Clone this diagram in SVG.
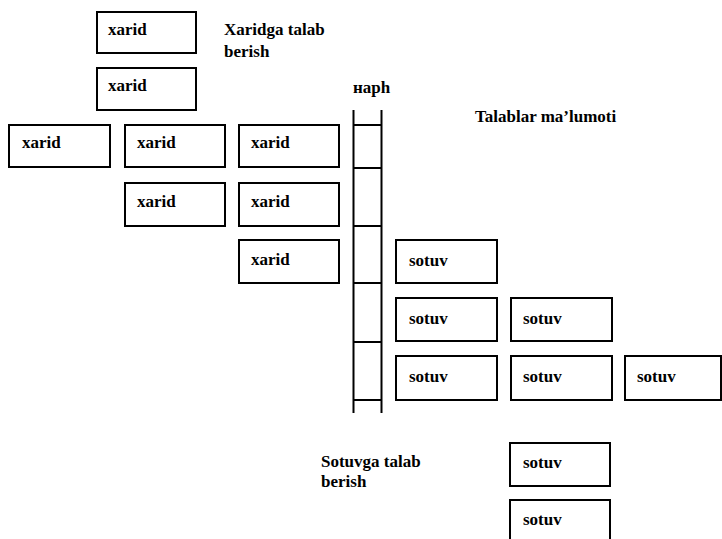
<svg xmlns="http://www.w3.org/2000/svg" width="722" height="539" viewBox="0 0 722 539">
<style>
.box{fill:#fff;stroke:#000;stroke-width:2}
.t{font-family:"Liberation Serif","Times New Roman",serif;font-weight:bold;font-size:17px;fill:#000}
.lbl{font-family:"Liberation Serif","Times New Roman",serif;font-weight:bold;font-size:17px;fill:#000}
.ln{stroke:#000;stroke-width:2;fill:none}
</style>
<rect width="722" height="539" fill="#fff"/>
<g id="labels">
<text class="lbl" x="224" y="35">Xaridga talab</text>
<text class="lbl" x="224" y="57">berish</text>
<text class="lbl" x="353" y="93">нaph</text>
<text class="lbl" x="475" y="122">Talablar ma’lumoti</text>
<text class="lbl" x="321" y="467">Sotuvga talab</text>
<text class="lbl" x="321" y="487">berish</text>
</g>
<g id="queue">
<path class="ln" d="M353.5,110 V413 M381.5,110 V413 M353.5,125 H381.5 M353.5,168 H381.5 M353.5,226 H381.5 M353.5,283 H381.5 M353.5,342 H381.5 M353.5,400 H381.5"/>
</g>
<g id="connectors"></g>
<g id="x1"><rect class="box" x="97" y="12" width="99" height="41"/><text class="t" x="108" y="35">xarid</text></g>
<g id="x2"><rect class="box" x="97" y="68" width="99" height="42"/><text class="t" x="108" y="91">xarid</text></g>
<g id="x3"><rect class="box" x="9" y="125" width="101" height="42"/><text class="t" x="22" y="148">xarid</text></g>
<g id="x4"><rect class="box" x="125" y="125" width="100" height="42"/><text class="t" x="137" y="148">xarid</text></g>
<g id="x5"><rect class="box" x="239" y="125" width="100" height="42"/><text class="t" x="251" y="148">xarid</text></g>
<g id="x6"><rect class="box" x="125" y="183" width="100" height="43"/><text class="t" x="137" y="207">xarid</text></g>
<g id="x7"><rect class="box" x="239" y="183" width="100" height="43"/><text class="t" x="251" y="207">xarid</text></g>
<g id="x8"><rect class="box" x="239" y="240" width="100" height="43"/><text class="t" x="251" y="265">xarid</text></g>
<g id="s1"><rect class="box" x="396" y="240" width="101" height="43"/><text class="t" x="409" y="266">sotuv</text></g>
<g id="s2"><rect class="box" x="396" y="298" width="101" height="43"/><text class="t" x="409" y="324">sotuv</text></g>
<g id="s3"><rect class="box" x="511" y="298" width="101" height="43"/><text class="t" x="523" y="324">sotuv</text></g>
<g id="s4"><rect class="box" x="396" y="356" width="101" height="44"/><text class="t" x="409" y="382">sotuv</text></g>
<g id="s5"><rect class="box" x="511" y="356" width="101" height="44"/><text class="t" x="523" y="382">sotuv</text></g>
<g id="s6"><rect class="box" x="625" y="356" width="96" height="44"/><text class="t" x="637" y="382">sotuv</text></g>
<g id="s7"><rect class="box" x="510" y="443" width="100" height="43"/><text class="t" x="523" y="468">sotuv</text></g>
<g id="s8"><rect class="box" x="510" y="500" width="100" height="45"/><text class="t" x="523" y="525">sotuv</text></g>
</svg>
